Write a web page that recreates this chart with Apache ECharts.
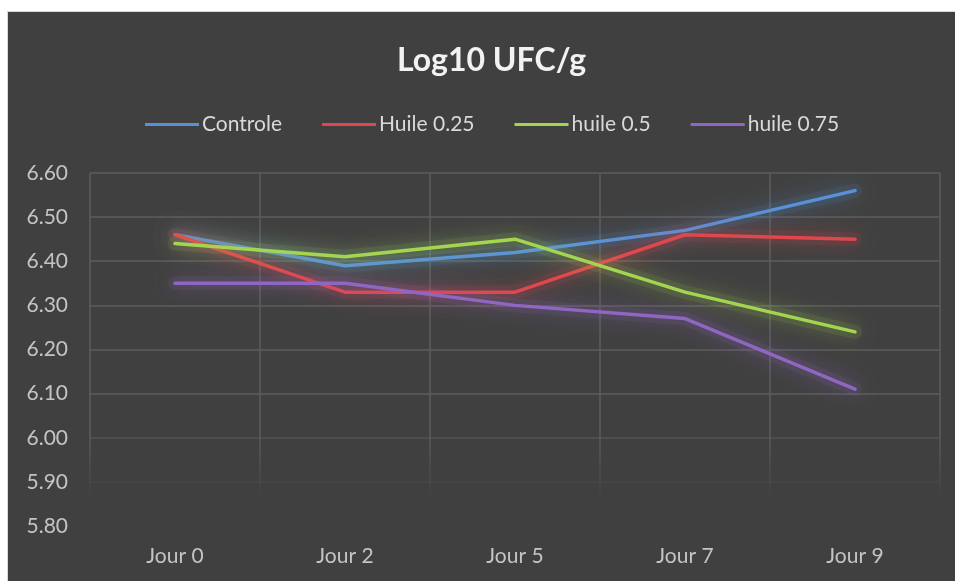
<!DOCTYPE html>
<html>
<head>
<meta charset="utf-8">
<script src="https://cdn.jsdelivr.net/npm/echarts@6/dist/echarts.min.js"></script>
<style>
html,body{margin:0;padding:0;background:#ffffff;width:955px;height:581px;overflow:hidden;}
#frame{position:absolute;left:7px;top:11px;width:948px;height:570px;background:#d9d9d9;}
#chart{position:absolute;left:8px;top:12px;width:947px;height:569px;background:#404040;}
</style>
</head>
<body>
<div id="frame"></div>
<div id="chart"></div>
<script>
const titleText = 'Log10 UFC/g';
const categories = ['Jour 0', 'Jour 2', 'Jour 5', 'Jour 7', 'Jour 9'];
const seriesNames = ['Controle', 'Huile 0.25', 'huile 0.5', 'huile 0.75'];
const controle = [6.46, 6.39, 6.42, 6.47, 6.56];
const huile025 = [6.46, 6.33, 6.33, 6.46, 6.45];
const huile05 = [6.44, 6.41, 6.45, 6.33, 6.24];
const huile075 = [6.35, 6.35, 6.30, 6.27, 6.11];
const yMin = 5.8, yMax = 6.6, yStep = 0.1;
const colors = ['#5891d6', '#e0474c', '#a3d550', '#8f67c3'];
const glow = ['rgba(88,145,214,0.9)', 'rgba(224,71,76,0.9)', 'rgba(163,213,80,0.9)', 'rgba(143,103,195,0.9)'];

const allData = [controle, huile025, huile05, huile075];
const font = 'Lato, "Open Sans", sans-serif';

const chart = echarts.init(document.getElementById('chart'));
const gridCol = '#5c5c5c';

const glowSeries = seriesNames.map((name, i) => ({
  name: name + ' glow',
  type: 'line',
  data: allData[i],
  symbol: 'none',
  silent: true,
  z: 1,
  lineStyle: {width: 14, color: colors[i], opacity: 0.1, cap: 'round', join: 'round'}
}));
const mainSeries = seriesNames.map((name, i) => ({
  name: name,
  type: 'line',
  data: allData[i],
  symbol: 'none',
  z: 3,
  lineStyle: {width: 3.5, color: colors[i], cap: 'round', join: 'round',
    shadowBlur: 20, shadowColor: glow[i]}
}));

chart.setOption({
  backgroundColor: '#404040',
  animation: false,
  color: colors,
  title: {
    text: titleText,
    left: 384,
    top: 28,
    textStyle: {color: '#f2f2f2', fontSize: 32, fontWeight: 'bold', fontFamily: font}
  },
  legend: {
    top: 97,
    left: 132,
    icon: 'rect',
    itemWidth: 54,
    itemHeight: 3,
    itemGap: 40,
    data: seriesNames,
    textStyle: {color: '#d9d9d9', fontSize: 21, fontFamily: font, padding: [0,0,0,-2]}
  },
  grid: {left: 82, right: 15, top: 161, bottom: 55, containLabel: false},
  xAxis: {
    type: 'category',
    data: categories,
    boundaryGap: true,
    axisLine: {show: false},
    axisTick: {show: false},
    axisLabel: {color: '#c4c4c4', fontSize: 21, fontFamily: font, margin: 20},
    splitLine: {
      show: true,
      interval: 0,
      lineStyle: {
        width: 1.5,
        color: new echarts.graphic.LinearGradient(0, 0, 0, 1, [
          {offset: 0, color: gridCol},
          {offset: 0.74, color: gridCol},
          {offset: 0.92, color: 'rgba(92,92,92,0)'},
          {offset: 1, color: 'rgba(92,92,92,0)'}
        ])
      }
    }
  },
  yAxis: {
    type: 'value',
    min: yMin,
    max: yMax,
    interval: yStep,
    axisLine: {show: false},
    axisTick: {show: false},
    axisLabel: {color: '#c4c4c4', fontSize: 21, fontFamily: font, margin: 22,
      formatter: v => v.toFixed(2)},
    splitLine: {
      show: true,
      lineStyle: {
        width: 1.5,
        color: ['rgba(92,92,92,0)', 'rgba(92,92,92,0.25)', 'rgba(92,92,92,0.7)', gridCol, gridCol, gridCol, gridCol, gridCol, gridCol]
      }
    }
  },
  series: glowSeries.concat(mainSeries)
});
</script>
</body>
</html>
